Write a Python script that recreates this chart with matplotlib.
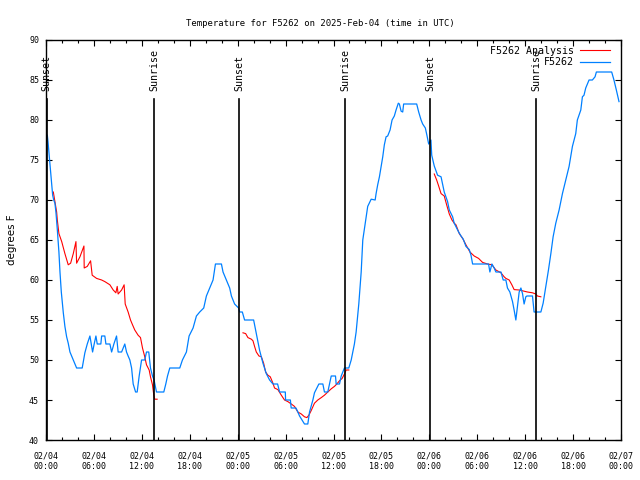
import numpy as np
import matplotlib
matplotlib.use("Agg")
import matplotlib.pyplot as plt
import matplotlib.dates as mdates

# hours since 2025-02-04 00:00 UTC, temperature in F
obs_hours = [0.16, 0.25, 0.46, 0.59, 0.71, 0.84, 0.96, 1.12, 1.25, 1.41, 1.62, 1.75, 1.91, 2.16,
             2.37, 2.59, 2.79, 3.0, 3.41, 3.84, 4.54, 4.87, 5.16, 5.5, 5.84, 6.04, 6.25, 6.41,
             6.87, 6.96, 7.37, 7.5, 8.0, 8.21, 8.5, 8.84, 9.04, 9.46, 9.87, 10.09, 10.29, 10.5,
             10.71, 10.91, 11.21, 11.41, 11.66, 11.96, 12.37, 12.59, 12.87, 13.09, 13.34, 13.54,
             13.84, 14.75, 15.0, 15.21, 15.5, 16.75, 17.09, 17.59, 17.91, 18.41, 18.84, 19.25,
             19.75, 20.09, 20.5, 20.91, 21.21, 21.96, 22.16, 22.59, 23.0, 23.21, 23.62, 24.12,
             24.25, 24.59, 24.87, 26.0, 26.34, 26.75, 27.16, 27.59, 28.0, 28.41, 29.0, 29.25,
             29.96, 30.0, 30.6, 30.7, 31.3, 31.54, 31.75, 32.37, 32.79, 33.0, 33.41, 33.62,
             34.16, 34.66, 34.87, 35.29, 35.71, 36.25, 36.34, 36.75, 36.96, 37.37, 37.91, 38.21,
             38.41, 38.62, 38.84, 39.16, 39.46, 39.66, 39.96, 40.09, 40.29, 40.71, 41.21, 41.34,
             41.54, 41.75, 41.96, 42.16, 42.37, 42.59, 42.79, 43.09, 43.34, 43.62, 43.84, 44.12,
             44.25, 44.46, 44.66, 44.79, 46.41, 46.66, 46.96, 47.16, 47.5, 47.71, 47.91, 48.2,
             48.3, 48.62, 49.04, 49.46, 49.87, 50.29, 50.5, 50.91, 51.12, 51.66, 51.96, 52.25,
             52.59, 53.0, 53.21, 53.41, 55.41, 55.59, 55.84, 56.12, 56.34, 56.96, 57.25, 57.59,
             57.79, 58.09, 58.41, 58.62, 58.84, 59.04, 59.25, 59.46, 59.66, 59.87, 60.09, 60.21,
             60.91, 61.12, 61.96, 62.25, 62.59, 62.91, 63.21, 63.5, 63.84, 64.04, 64.25, 64.66,
             65.09, 65.5, 65.91, 66.34, 66.54, 66.96, 67.16, 67.37, 67.59, 68.0, 68.41, 68.75,
             68.91, 70.84, 71.12, 71.41, 71.75]
obs_temp = [78.1, 77.3, 74.8, 73.4, 71.9, 70.6, 70.0, 69.6, 68.4, 66.3, 63.5, 61.0, 58.5, 55.9,
            54.2, 52.9, 52.1, 51.0, 50.0, 49.0, 49.0, 50.9, 52.0, 53.0, 51.0, 52.0, 53.0, 52.0,
            52.0, 53.0, 53.0, 52.0, 52.0, 51.0, 52.0, 53.0, 51.0, 51.0, 52.0, 51.0, 50.5, 50.0,
            49.0, 47.0, 46.0, 46.0, 48.0, 50.0, 50.0, 51.0, 51.0, 49.0, 48.0, 47.5,
            46.0, 46.0, 47.0, 48.0, 49.0, 49.0, 50.0, 51.0, 53.0, 54.0, 55.5, 56.0,
            56.5, 58.0, 59.0, 60.0, 62.0, 62.0, 61.0, 60.0, 59.0, 58.0, 57.0, 56.5,
            56.0, 56.0, 55.0, 55.0, 53.3, 51.2, 49.6, 48.3, 47.5, 47.0, 47.0, 46.0,
            46.0, 45.0, 45.0, 44.0, 44.0, 43.5, 43.0, 42.0, 42.0, 43.5, 45.0, 45.9,
            47.0, 47.0, 46.0, 46.0, 48.0, 48.0, 47.0, 47.0, 48.0, 49.0, 49.0, 50.0,
            51.0, 52.0, 53.5, 57.0, 61.0, 65.0, 67.0, 67.7, 69.2, 70.1, 70.0, 70.8,
            71.9, 72.9, 74.2, 75.4, 76.9, 77.9, 78.0, 78.75, 80.0, 80.5, 81.25, 82.1,
            82.0, 81.1, 81.0, 82.0, 82.0, 81.0, 80.0, 79.5, 79.0, 78.0, 77.0, 77.5,
            75.6, 74.25, 73.1, 72.9, 71.0, 69.8, 68.75, 67.9, 67.1, 66.0, 65.5, 65.1,
            64.2, 63.8, 63.1, 62.0, 62.0, 61.0, 62.0, 61.5, 61.0, 61.0, 60.0, 60.0,
            59.0, 58.5, 57.3, 56.25, 55.0, 56.7, 58.5, 59.0, 58.3, 57.0, 57.9, 58.0,
            58.0, 56.0, 56.0, 57.1, 59.2, 61.25, 63.3, 65.4, 67.1, 67.9, 68.75, 70.8,
            72.5, 74.2, 76.7, 78.3, 80.0, 81.25, 82.9, 83.1, 84.0, 85.0, 85.0, 85.4,
            86.0, 86.0, 85.0, 83.75, 82.3]

# analysis runs (three separate pieces)
ana1_hours = [0.91, 1.12, 1.34, 1.41, 1.62, 1.96, 2.37, 2.79, 3.09, 3.41, 3.75, 3.84, 4.25, 4.75,
              4.79, 5.16, 5.59, 5.79, 6.34, 6.96, 7.37, 8.0, 8.41, 8.75, 8.91, 9.04, 9.46, 9.79,
              9.91, 10.29, 10.59, 10.84, 11.12, 11.54, 11.84, 12.09, 12.37, 12.59, 12.91, 13.09,
              13.34, 13.5, 13.62, 13.91]
ana1_temp = [71.0, 69.8, 68.5, 67.5, 65.8, 64.8, 63.3, 61.9, 62.1, 63.3, 64.8, 62.1, 62.9, 64.25,
             61.5, 61.7, 62.4, 60.6, 60.2, 60.0, 59.8, 59.4, 58.75, 58.4, 59.2, 58.25, 58.75, 59.4,
             57.0, 56.0, 55.0, 54.4, 53.75, 53.1, 52.8, 51.5, 50.4, 49.4, 48.75, 47.9,
             46.9, 45.6, 45.1, 45.1]
ana2_hours = [24.66, 25.0, 25.29, 25.71, 25.91, 26.12, 26.34, 26.66, 26.96, 27.25, 27.5, 27.79,
              28.09, 28.41, 28.62, 29.04, 29.46, 29.87, 30.29, 30.71, 31.12, 31.54, 31.96, 32.37,
              32.66, 32.91, 33.21, 33.62, 34.04, 34.46, 34.87, 35.29, 35.71, 36.12, 36.41, 36.75,
              37.09, 37.37, 37.59, 37.91]
ana2_temp = [53.4, 53.3, 52.8, 52.6, 52.4, 51.7, 51.0, 50.5, 50.4, 49.6, 48.5, 48.1,
             47.9, 47.1, 46.5, 46.3, 45.6, 45.0, 44.8, 44.5, 44.2, 43.5, 43.25, 42.9,
             42.8, 43.1, 43.7, 44.6, 45.0, 45.3, 45.6, 46.0, 46.4, 46.7, 47.0, 47.4,
             47.7, 48.25, 48.75, 48.75]
ana3_hours = [48.62, 48.91, 49.16, 49.46, 49.87, 50.16, 50.5, 50.84, 51.12, 51.34, 51.75, 52.16,
              52.59, 53.09, 53.62, 54.16, 54.66, 55.29, 55.84, 56.34, 56.96, 57.37, 57.59, 58.0,
              58.34, 58.62, 59.25, 60.29, 60.91, 61.34, 61.54, 61.96]
ana3_temp = [73.25, 72.5, 71.75, 70.8, 70.5, 69.4, 68.25, 67.5, 67.1, 66.9, 65.8, 65.2,
             64.4, 63.5, 63.0, 62.7, 62.2, 62.0, 61.9, 61.25, 60.9, 60.4, 60.2, 60.0,
             59.4, 58.8, 58.75, 58.5, 58.4, 58.25, 58.0, 57.9]

sun_hours = [0.08, 13.54, 24.17, 37.5, 48.1, 61.4]
sun_labels = ["Sunset", "Sunrise", "Sunset", "Sunrise", "Sunset", "Sunrise"]

start = np.datetime64("2025-02-04T00:00")


def to_time(hours):
    return start + (np.array(hours) * 60).round().astype("timedelta64[m]")


mono = "DejaVu Sans Mono"
fig = plt.figure(figsize=(6.4, 4.8), dpi=100)
ax = fig.add_axes([46 / 640, 40 / 480, 575 / 640, 400 / 480])

# analysis: one legend entry, three pieces
first = True
for hrs, tmp in [(ana1_hours, ana1_temp), (ana2_hours, ana2_temp), (ana3_hours, ana3_temp)]:
    ax.plot(to_time(hrs), tmp, color="#ff0000", lw=0.8,
            label="F5262 Analysis" if first else None)
    first = False
ax.plot(to_time(obs_hours), obs_temp, color="#0080ff", lw=0.9, label="F5262")

for h, lab in zip(sun_hours, sun_labels):
    t = to_time([h])[0]
    ax.plot([t, t], [40, 82.6], color="black", lw=1.2)
    ax.text(t, 83.6, lab, rotation=90, ha="center", va="bottom",
            fontsize=7.2, family=mono)

ax.set_xlim(to_time([0])[0], to_time([72])[0])
ax.set_ylim(40, 90)
ax.set_yticks(range(40, 91, 5))
ax.xaxis.set_major_locator(mdates.HourLocator(byhour=[0, 6, 12, 18]))
ax.xaxis.set_minor_locator(mdates.HourLocator(byhour=range(0, 24, 2)))
ax.xaxis.set_major_formatter(mdates.DateFormatter("%m/%d\n%H:%M"))

ax.tick_params(which="both", direction="in", top=True, right=True)
ax.tick_params(which="major", length=4.3, width=0.8)
ax.tick_params(which="minor", length=2.2, width=0.8)
ax.tick_params(axis="x", pad=8)
ax.tick_params(axis="y", pad=5)
for lab in ax.get_xticklabels() + ax.get_yticklabels():
    lab.set_family(mono)
    lab.set_fontsize(6.0)
for s in ax.spines.values():
    s.set_linewidth(1.0)

ax.set_ylabel("degrees F", fontsize=7.4, labelpad=9)
fig.suptitle("Temperature for F5262 on 2025-Feb-04 (time in UTC)", y=0.96,
             fontsize=6.4, family=mono)

ax.legend(loc="upper right", bbox_to_anchor=(0.981, 0.985), frameon=False,
          markerfirst=False, borderpad=0, borderaxespad=0, handlelength=3.0,
          handletextpad=0.6, labelspacing=0.15, prop={"family": mono, "size": 7.2})

fig.savefig("out.png", dpi=100)
